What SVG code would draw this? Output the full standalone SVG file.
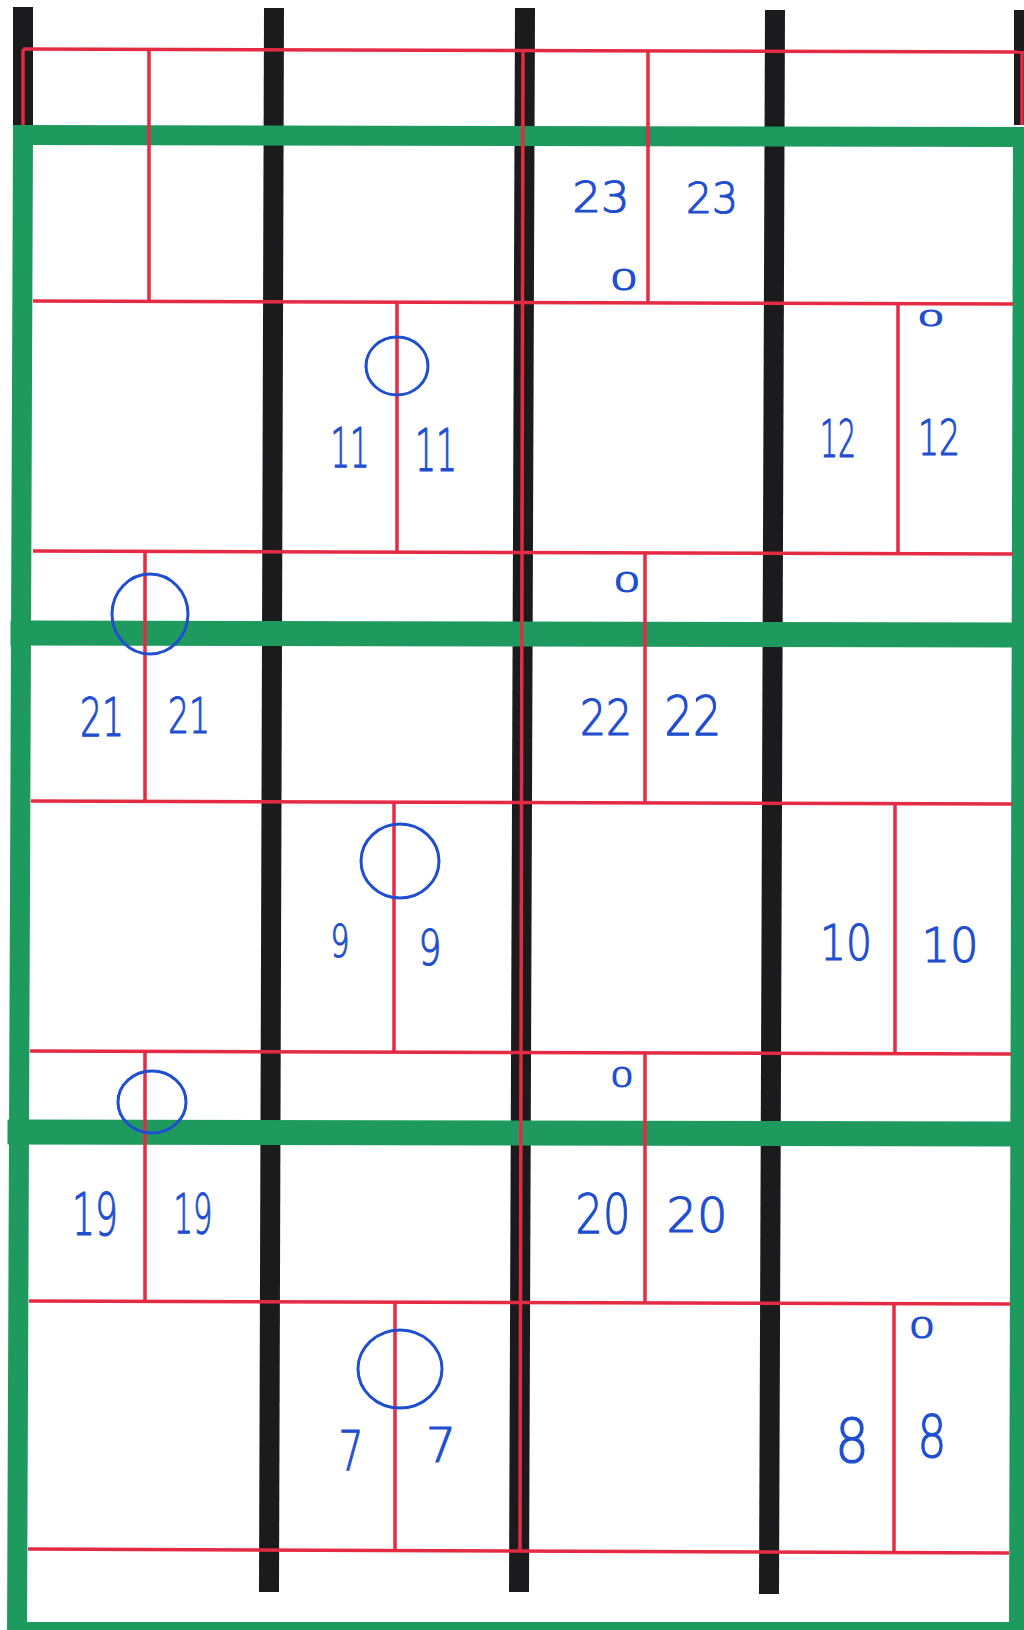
<svg xmlns="http://www.w3.org/2000/svg" width="1024" height="1630" viewBox="0 0 1024 1630">
<style>
.bar{stroke:#1b1b1d;stroke-width:20;fill:none}
.red{stroke:#e52a43;stroke-width:3.5;fill:none}
.grn{stroke:#1f9a5e;fill:none;stroke-linecap:square}
.num{font-family:"DejaVu Sans","Liberation Sans",sans-serif;font-weight:200;fill:#1f4fcf;stroke:#1f4fcf;stroke-width:1.2;text-anchor:middle}
.ring{fill:none;stroke:#1f4fcf;stroke-width:3}
</style>
<rect width="1024" height="1630" fill="#ffffff"/>
<g id="black-bars">
<line class="bar" x1="23" y1="7" x2="23" y2="125"/>
<line class="bar" x1="274" y1="8" x2="269" y2="1592"/>
<line class="bar" x1="525" y1="8" x2="519" y2="1592"/>
<line class="bar" x1="775" y1="10" x2="769" y2="1594"/>
<line class="bar" x1="1024" y1="10" x2="1024" y2="125"/>
</g>
<g id="green-frame">
<line class="grn" stroke-width="20" x1="23" y1="135" x2="1023" y2="137"/>
<line class="grn" stroke-width="20" x1="23" y1="135" x2="17" y2="1640"/>
<line class="grn" stroke-width="20" x1="1023" y1="137" x2="1019" y2="1640"/>
<line class="grn" stroke-width="25" x1="23" y1="633" x2="1021" y2="635"/>
<line class="grn" stroke-width="25" x1="20" y1="1132" x2="1020" y2="1134"/>
<line class="grn" stroke-width="16" x1="17" y1="1630" x2="1019" y2="1630"/>
</g>
<g id="red-grid">
<line class="red" x1="23" y1="49" x2="1024" y2="52"/>
<line class="red" x1="23" y1="49" x2="23" y2="125"/>
<line class="red" x1="1022" y1="52" x2="1022" y2="125"/>
<line class="red" x1="523" y1="49" x2="520" y2="1552"/>
<line class="red" x1="33" y1="301" x2="1013" y2="304"/>
<line class="red" x1="33" y1="551" x2="1013" y2="554"/>
<line class="red" x1="31" y1="801" x2="1012" y2="804"/>
<line class="red" x1="30" y1="1051" x2="1011" y2="1054"/>
<line class="red" x1="29" y1="1301" x2="1010" y2="1304"/>
<line class="red" x1="28" y1="1549" x2="1009" y2="1553"/>
<line class="red" x1="149" y1="50" x2="149" y2="301"/>
<line class="red" x1="648" y1="51" x2="648" y2="303"/>
<line class="red" x1="397" y1="302" x2="397" y2="552"/>
<line class="red" x1="898" y1="304" x2="898" y2="554"/>
<line class="red" x1="145" y1="552" x2="145" y2="802"/>
<line class="red" x1="645" y1="553" x2="645" y2="803"/>
<line class="red" x1="394" y1="802" x2="394" y2="1052"/>
<line class="red" x1="895" y1="804" x2="895" y2="1054"/>
<line class="red" x1="145" y1="1052" x2="145" y2="1302"/>
<line class="red" x1="645" y1="1053" x2="645" y2="1303"/>
<line class="red" x1="395" y1="1303" x2="395" y2="1551"/>
<line class="red" x1="894" y1="1304" x2="894" y2="1553"/>
</g>
<g id="circles">
<ellipse class="ring" cx="397" cy="366" rx="31" ry="29"/>
<ellipse class="ring" cx="150" cy="614" rx="38" ry="40"/>
<ellipse class="ring" cx="400" cy="861" rx="39" ry="37"/>
<ellipse class="ring" cx="152" cy="1102" rx="34" ry="31"/>
<ellipse class="ring" cx="400" cy="1369" rx="42" ry="39"/>
</g>
<g id="labels">
<text class="num" x="601" y="212" font-size="42" textLength="57" lengthAdjust="spacingAndGlyphs">23</text>
<text class="num" x="712" y="213" font-size="43" textLength="52" lengthAdjust="spacingAndGlyphs">23</text>
<text class="num" x="624" y="290" font-size="28" textLength="29" lengthAdjust="spacingAndGlyphs">0</text>
<text class="num" x="350" y="467" font-size="56" textLength="39" lengthAdjust="spacingAndGlyphs">11</text>
<text class="num" x="436" y="471" font-size="58" textLength="42" lengthAdjust="spacingAndGlyphs">11</text>
<text class="num" x="838" y="457" font-size="52" textLength="36" lengthAdjust="spacingAndGlyphs">12</text>
<text class="num" x="939" y="455" font-size="49" textLength="42" lengthAdjust="spacingAndGlyphs">12</text>
<text class="num" x="931" y="326" font-size="22" textLength="28" lengthAdjust="spacingAndGlyphs">0</text>
<text class="num" x="627" y="592" font-size="27" textLength="28" lengthAdjust="spacingAndGlyphs">0</text>
<text class="num" x="102" y="736" font-size="54" textLength="44" lengthAdjust="spacingAndGlyphs">21</text>
<text class="num" x="189" y="733" font-size="50" textLength="42" lengthAdjust="spacingAndGlyphs">21</text>
<text class="num" x="606" y="735" font-size="49" textLength="52" lengthAdjust="spacingAndGlyphs">22</text>
<text class="num" x="693" y="735" font-size="56" textLength="57" lengthAdjust="spacingAndGlyphs">22</text>
<text class="num" x="340" y="957" font-size="44" textLength="19" lengthAdjust="spacingAndGlyphs">9</text>
<text class="num" x="430" y="965" font-size="50" textLength="23" lengthAdjust="spacingAndGlyphs">9</text>
<text class="num" x="846" y="960" font-size="49" textLength="52" lengthAdjust="spacingAndGlyphs">10</text>
<text class="num" x="950" y="962" font-size="48" textLength="57" lengthAdjust="spacingAndGlyphs">10</text>
<text class="num" x="622" y="1087" font-size="26" textLength="24" lengthAdjust="spacingAndGlyphs">0</text>
<text class="num" x="95" y="1235" font-size="58" textLength="46" lengthAdjust="spacingAndGlyphs">19</text>
<text class="num" x="193" y="1233" font-size="56" textLength="39" lengthAdjust="spacingAndGlyphs">19</text>
<text class="num" x="603" y="1233" font-size="56" textLength="55" lengthAdjust="spacingAndGlyphs">20</text>
<text class="num" x="697" y="1232" font-size="48" textLength="61" lengthAdjust="spacingAndGlyphs">20</text>
<text class="num" x="351" y="1470" font-size="55" textLength="25" lengthAdjust="spacingAndGlyphs">7</text>
<text class="num" x="441" y="1462" font-size="48" textLength="30" lengthAdjust="spacingAndGlyphs">7</text>
<text class="num" x="922" y="1338" font-size="28" textLength="27" lengthAdjust="spacingAndGlyphs">0</text>
<text class="num" x="852" y="1462" font-size="61" textLength="34" lengthAdjust="spacingAndGlyphs">8</text>
<text class="num" x="932" y="1457" font-size="58" textLength="29" lengthAdjust="spacingAndGlyphs">8</text>
</g>
</svg>
